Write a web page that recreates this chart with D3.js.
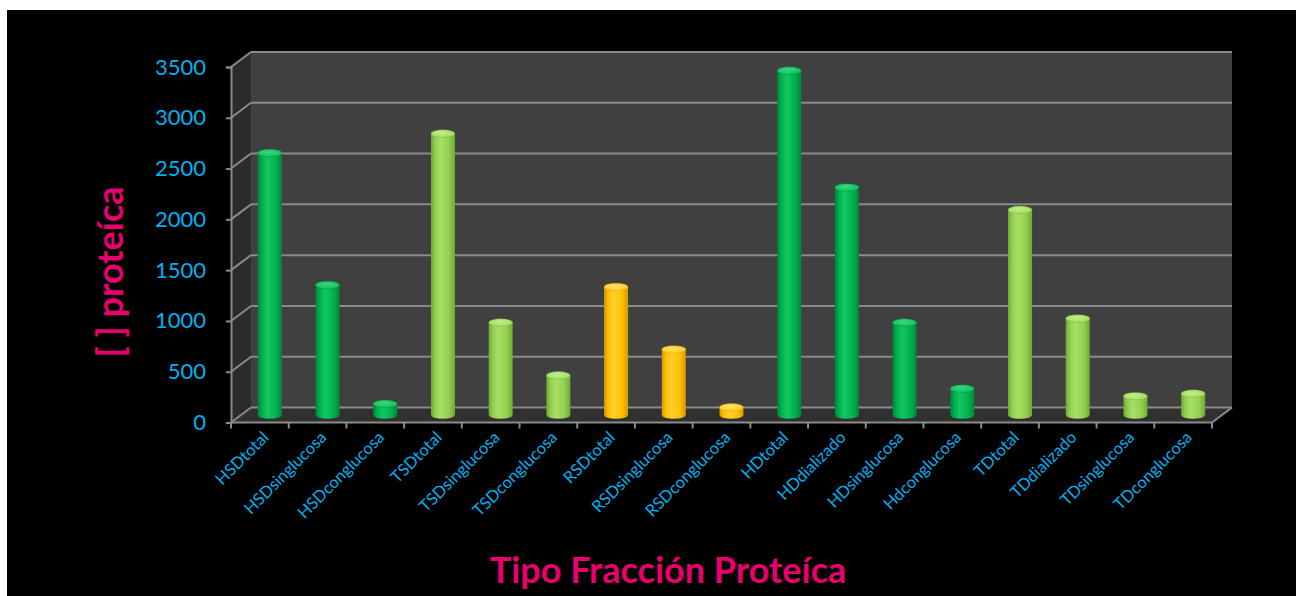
<!DOCTYPE html>
<html>
<head>
<meta charset="utf-8">
<script src="https://cdn.jsdelivr.net/npm/d3@7"></script>
<style>
  html, body { margin: 0; padding: 0; background: #ffffff; }
  svg { display: block; }
</style>
</head>
<body>
<svg id="chart" width="1299" height="596"></svg>
<script>
// Protein concentration per fraction type
const categories = [
  "HSDtotal", "HSDsinglucosa", "HSDconglucosa",
  "TSDtotal", "TSDsinglucosa", "TSDconglucosa",
  "RSDtotal", "RSDsinglucosa", "RSDconglucosa",
  "HDtotal", "HDdializado", "HDsinglucosa", "Hdconglucosa",
  "TDtotal", "TDdializado", "TDsinglucosa", "TDconglucosa"
];
const values = [
  2580, 1280, 110,
  2770, 910, 390,
  1260, 645, 75,
  3390, 2240, 910, 260,
  2020, 950, 185, 210
];
// colour group of each fraction
const groups = [
  "dark", "dark", "dark",
  "light", "light", "light",
  "gold", "gold", "gold",
  "dark", "dark", "dark", "dark",
  "light", "light", "light", "light"
];
const yTicks = [0, 500, 1000, 1500, 2000, 2500, 3000, 3500];
const yTitle = "[ ] proteíca";
const xTitle = "Tipo Fracción Proteíca";

const palette = {
  dark:  { edge: "#00863a", mid: "#00b04f", hi: "#12c862", top: "#10c25c", topHi: "#3ad67e" },
  light: { edge: "#6fa836", mid: "#92d050", hi: "#a8e066", top: "#a2dc5e", topHi: "#c2ee8a" },
  gold:  { edge: "#d49a00", mid: "#ffc000", hi: "#ffd030", top: "#ffcc1c", topHi: "#ffe070" }
};

const svg = d3.select("#chart");
const defs = svg.append("defs");

// black chart area
svg.append("rect").attr("x", 7).attr("y", 10).attr("width", 1289).attr("height", 586).attr("fill", "#000");

const plotLeft = 231, plotRight = 1212, plotBottom = 422.5, plotTop = 67;
const depth = { dx: 20, dy: -15 };

const x = d3.scaleBand().domain(categories).range([plotLeft, plotRight]).padding(0);
const y = d3.scaleLinear().domain([0, 3500]).range([plotBottom, plotTop]);

// walls and floor
const walls = svg.append("g");
walls.append("polygon")
  .attr("points", [[plotLeft + depth.dx, y(3500) + depth.dy], [plotRight + depth.dx, y(3500) + depth.dy],
                   [plotRight + depth.dx, y(0) + depth.dy], [plotLeft + depth.dx, y(0) + depth.dy]].join(" "))
  .attr("fill", "#404040");
walls.append("polygon")
  .attr("points", [[plotLeft, y(3500)], [plotLeft + depth.dx, y(3500) + depth.dy],
                   [plotLeft + depth.dx, y(0) + depth.dy], [plotLeft, y(0)]].join(" "))
  .attr("fill", "#2b2b2b");
walls.append("polygon")
  .attr("points", [[plotLeft, y(0)], [plotLeft + depth.dx, y(0) + depth.dy],
                   [plotRight + depth.dx, y(0) + depth.dy], [plotRight, y(0)]].join(" "))
  .attr("fill", "#303030");

// gridlines on the back wall and the side wall
const grid = walls.append("g").attr("stroke", "#8a8a8a").attr("stroke-width", 2).attr("fill", "none");
yTicks.forEach(t => {
  grid.append("line")
    .attr("x1", plotLeft + depth.dx).attr("x2", plotRight + depth.dx)
    .attr("y1", y(t) + depth.dy).attr("y2", y(t) + depth.dy);
  grid.append("line")
    .attr("x1", plotLeft).attr("x2", plotLeft + depth.dx)
    .attr("y1", y(t)).attr("y2", y(t) + depth.dy);
});
// floor right edge
grid.append("line")
  .attr("x1", plotRight).attr("y1", y(0))
  .attr("x2", plotRight + depth.dx).attr("y2", y(0) + depth.dy);

// y axis
const yAxis = svg.append("g")
  .attr("transform", `translate(${plotLeft},0)`)
  .call(d3.axisLeft(y).tickValues(yTicks).tickSize(5).tickPadding(20).tickFormat(d3.format("d")));
yAxis.select(".domain").attr("stroke", "#8a8a8a").attr("stroke-width", 2);
yAxis.selectAll(".tick line").attr("stroke", "#8a8a8a").attr("stroke-width", 2);
yAxis.selectAll(".tick text")
  .attr("fill", "#00b0f0")
  .style("font-family", "Lato, 'Open Sans', sans-serif")
  .style("font-size", "22px");

// x axis line with ticks at category boundaries
const xAxis = svg.append("g").attr("transform", `translate(0,${plotBottom})`);
xAxis.append("line").attr("x1", plotLeft).attr("x2", plotRight).attr("y1", 0).attr("y2", 0)
  .attr("stroke", "#8a8a8a").attr("stroke-width", 2);
const boundaries = categories.map(c => x(c)).concat([plotRight]);
xAxis.selectAll("line.tk").data(boundaries).join("line")
  .attr("class", "tk")
  .attr("x1", d => d).attr("x2", d => d).attr("y1", 0).attr("y2", 6)
  .attr("stroke", "#8a8a8a").attr("stroke-width", 2);

// rotated category labels
svg.append("g").selectAll("text").data(categories).join("text")
  .attr("transform", d => `translate(${x(d) + x.bandwidth() / 2 + 10},${plotBottom + 16}) rotate(-45)`)
  .attr("text-anchor", "end")
  .attr("fill", "#00b0f0")
  .style("font-family", "Lato, 'Open Sans', sans-serif")
  .style("font-size", "16.5px")
  .text(d => d);

// cylinder gradients
Object.entries(palette).forEach(([k, p]) => {
  const lg = defs.append("linearGradient").attr("id", "body-" + k)
    .attr("x1", "0%").attr("x2", "100%").attr("y1", "0%").attr("y2", "0%");
  lg.append("stop").attr("offset", "0%").attr("stop-color", p.edge);
  lg.append("stop").attr("offset", "18%").attr("stop-color", p.mid);
  lg.append("stop").attr("offset", "40%").attr("stop-color", p.hi);
  lg.append("stop").attr("offset", "75%").attr("stop-color", p.mid);
  lg.append("stop").attr("offset", "100%").attr("stop-color", p.edge);
  const rg = defs.append("radialGradient").attr("id", "top-" + k)
    .attr("cx", "45%").attr("cy", "40%").attr("r", "60%");
  rg.append("stop").attr("offset", "0%").attr("stop-color", p.topHi);
  rg.append("stop").attr("offset", "100%").attr("stop-color", p.top);
});

// cylinders, standing midway along the depth
const rx = 12, ry = 3.8;
const bars = svg.append("g").selectAll("g").data(categories).join("g");
bars.each(function(c, i) {
  const gg = d3.select(this);
  const cx = x(c) + x.bandwidth() / 2 + depth.dx / 2;
  const yb = y(0) + depth.dy / 2;
  const yt = y(values[i]) + depth.dy / 2;
  const k = groups[i];
  gg.append("path")
    .attr("d", `M${cx - rx},${yt} L${cx - rx},${yb} A${rx},${ry} 0 0 0 ${cx + rx},${yb} L${cx + rx},${yt} Z`)
    .attr("fill", `url(#body-${k})`);
  gg.append("ellipse")
    .attr("cx", cx).attr("cy", yt).attr("rx", rx).attr("ry", ry)
    .attr("fill", `url(#top-${k})`)
    .attr("stroke", palette[k].edge).attr("stroke-width", 0.6).attr("stroke-opacity", 0.6);
});

// axis titles
svg.append("text")
  .attr("transform", `translate(123,272) rotate(-90)`)
  .attr("text-anchor", "middle")
  .attr("fill", "#e8006e")
  .style("font-family", "Lato, 'Open Sans', sans-serif")
  .style("font-weight", "bold")
  .style("font-size", "36px")
  .text(yTitle);

svg.append("text")
  .attr("x", 668).attr("y", 583)
  .attr("text-anchor", "middle")
  .attr("fill", "#e8006e")
  .style("font-family", "Lato, 'Open Sans', sans-serif")
  .style("font-weight", "bold")
  .style("font-size", "36px")
  .text(xTitle);
</script>
</body>
</html>
